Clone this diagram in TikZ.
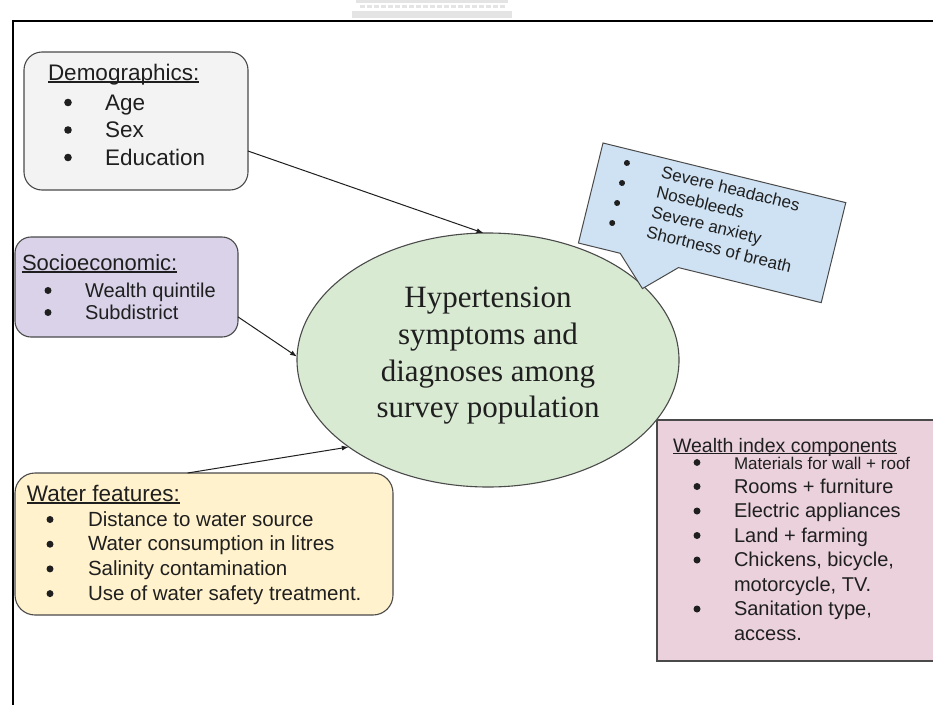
\documentclass[tikz,border=0pt]{standalone}
\usepackage{fontspec}
\setmainfont{Liberation Sans}
\newfontfamily\serifhyp{Liberation Serif}
\usetikzlibrary{shapes.geometric,arrows.meta,calc}

\definecolor{demofill}{HTML}{F3F3F3}
\definecolor{sociofill}{HTML}{D9D2E9}
\definecolor{hypfill}{HTML}{D9EAD3}
\definecolor{callfill}{HTML}{CFE2F3}
\definecolor{waterfill}{HTML}{FFF2CC}
\definecolor{wealthfill}{HTML}{EAD1DC}
\definecolor{edgecol}{HTML}{4A4A4A}
\definecolor{ink}{HTML}{1F1F1F}
\definecolor{faint}{HTML}{E4E4E4}

\newsavebox\ulbox
\newcommand\hdul[1]{\sbox\ulbox{#1}\rlap{\rule[-0.12em]{\wd\ulbox}{0.065em}}\usebox\ulbox}
\newcommand\fs[2]{\fontsize{#1}{#2}\selectfont}

\begin{document}
\begin{tikzpicture}[x=1pt,y=-1pt,
  boxline/.style={draw=edgecol, line width=1.1pt, inner sep=0, outer sep=0, anchor=north west},
  lbl/.style={anchor=base west, inner sep=0, outer sep=0, text=ink},
  arr/.style={draw=ink, line width=1pt, -{Latex[length=7pt,width=5pt]}},
  dotc/.style={fill=ink}
]
\useasboundingbox (0,0) rectangle (933,704);
\begin{scope}
\clip (0,0) rectangle (933,704);
\fill[white] (0,0) rectangle (933,704);
% faint watermark at the top
\fill[faint] (356,0) rectangle (508,3);
\draw[faint, line width=3pt, dash pattern=on 5pt off 2pt] (360,6.5) -- (506,6.5);
\fill[faint] (352,11) rectangle (512,18);
\draw[line width=1.8pt, black] (13,21) rectangle (950,720);

% Demographics
\node[boxline, fill=demofill, rounded corners=18pt, minimum width=224, minimum height=138] (demo) at (24,52) {};
\node[lbl, font=\fs{22.5}{27}] (demoH) at (48,80) {\hdul{Demographics:}};
\fill[dotc] (68,102.5) circle (3.8);
\fill[dotc] (68,130) circle (3.8);
\fill[dotc] (68,157.5) circle (3.8);
\node[lbl, font=\fs{22.5}{27.5}] (demolist) at (105,110) {\begin{tabular}[t]{@{}l@{}}Age\\Sex\\Education\end{tabular}};

% Socioeconomic
\node[boxline, fill=sociofill, rounded corners=16pt, minimum width=223, minimum height=100] (socio) at (15,237) {};
\node[lbl, font=\fs{22}{26}] (socioH) at (22,270) {\hdul{Socioeconomic:}};
\fill[dotc] (48,290.5) circle (3.5);
\fill[dotc] (48,312.5) circle (3.5);
\node[lbl, font=\fs{20}{22}] (sociolist) at (85,297) {\begin{tabular}[t]{@{}l@{}}Wealth quintile\\Subdistrict\end{tabular}};

% Water features
\node[boxline, fill=waterfill, rounded corners=20pt, minimum width=378, minimum height=142] (water) at (15,473) {};
\node[lbl, font=\fs{22.5}{27}] (waterH) at (27,501) {\hdul{Water features:}};
\fill[dotc] (50,519.5) circle (3.5);
\fill[dotc] (50,544.2) circle (3.5);
\fill[dotc] (50,568.9) circle (3.5);
\fill[dotc] (50,593.6) circle (3.5);
\node[lbl, font=\fs{20.5}{24.7}] (waterlist) at (88,526) {\begin{tabular}[t]{@{}l@{}}Distance to water source\\Water consumption in litres\\Salinity contamination\\Use of water safety treatment.\end{tabular}};

% Wealth index components
\node[boxline, fill=wealthfill, minimum width=300, minimum height=241] (wealth) at (657,420) {};
\node[lbl, font=\fs{19.5}{23}] (wealthH) at (673,452) {\hdul{Wealth index components}};
\fill[dotc] (697,462.5) circle (3.4);
\fill[dotc] (697,486.5) circle (3.5);
\fill[dotc] (697,511) circle (3.5);
\fill[dotc] (697,535.5) circle (3.5);
\fill[dotc] (697,560) circle (3.5);
\fill[dotc] (697,609) circle (3.5);
\node[lbl, font=\fs{17}{20}] (wealth1) at (734,469) {Materials for wall + roof};
\node[lbl, font=\fs{20}{24.5}] (wealthlist) at (734,493) {\begin{tabular}[t]{@{}l@{}}Rooms + furniture\\Electric appliances\\Land + farming\\Chickens, bicycle,\\motorcycle, TV.\\Sanitation type,\\access.\end{tabular}};

% Central ellipse
\node[ellipse, draw=edgecol, line width=1.1pt, fill=hypfill, minimum width=382, minimum height=254, inner sep=0, outer sep=0] (hyp) at (488,360) {};
\node[align=center, inner sep=0, text=ink, font=\serifhyp\fs{31}{36.7}] (hyptxt) at (488,356) {Hypertension\\symptoms and\\diagnoses among\\survey population};

% Callout
\begin{scope}[shift={(603,143)}, rotate=-13.8]
\draw[draw=edgecol, line width=1pt, fill=callfill] (0,0) -- (250,0) -- (250,103) -- (103,103) -- (73,132) -- (43,103) -- (0,103) -- cycle;
\fill[dotc] (28,13.7) circle (3);
\fill[dotc] (28,34.3) circle (3);
\fill[dotc] (28,54.9) circle (3);
\fill[dotc] (28,75.5) circle (3);
\node[lbl, rotate=-13.8, font=\fs{17}{20.6}] (calltxt) at (64,19.7) {\begin{tabular}[t]{@{}l@{}}Severe headaches\\Nosebleeds\\Severe anxiety\\Shortness of breath\end{tabular}};
\end{scope}

% Connectors
\draw[arr] (demo.-15.5) -- (hyp.92.7);
\draw[arr] (socio.-15.5) -- (hyp.179.4);
\draw[arr] (water.103.3) -- (hyp.212);
\end{scope}
\end{tikzpicture}
\end{document}
